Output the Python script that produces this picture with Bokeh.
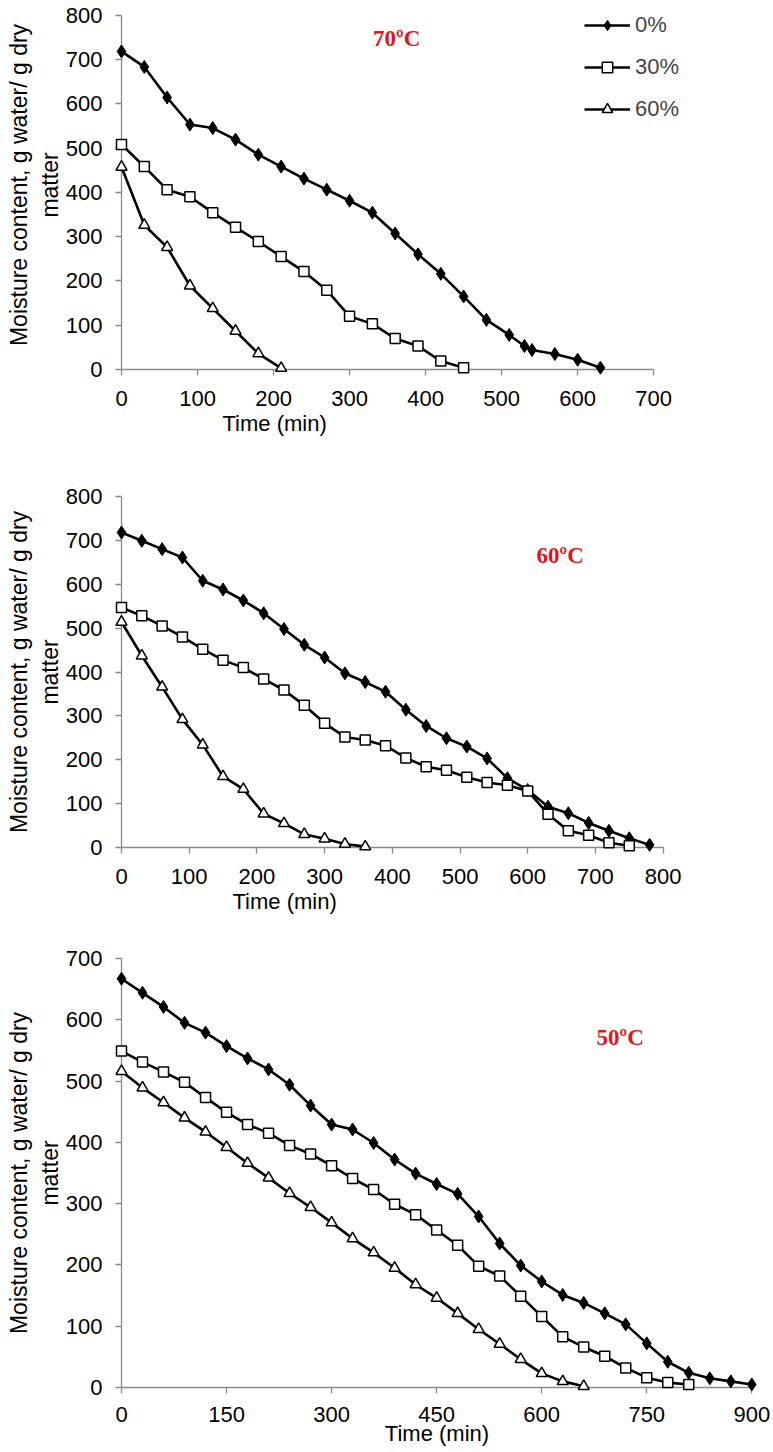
from bokeh.plotting import figure
from bokeh.models import Range1d, FixedTicker, Label, Legend, LegendItem, Title
from bokeh.layouts import column
from bokeh.embed import file_html
from bokeh.resources import INLINE

# ---------------- data ----------------
series_names = ["0%", "30%", "60%"]

# 70 C
t70_0 = [0, 30, 60, 90, 120, 150, 180, 210, 240, 270, 300, 330, 360, 390, 420, 450, 480, 510, 530, 540, 570, 600, 630]
m70_0 = [718, 683, 614, 553, 545, 519, 485, 458, 431, 406, 381, 354, 307, 260, 216, 165, 112, 78, 53, 44, 35, 22, 4]
t70_30 = [0, 30, 60, 90, 120, 150, 180, 210, 240, 270, 300, 330, 360, 390, 420, 450]
m70_30 = [508, 458, 406, 390, 354, 321, 289, 255, 221, 179, 120, 103, 70, 53, 19, 4]
t70_60 = [0, 30, 60, 90, 120, 150, 180, 210]
m70_60 = [457, 326, 276, 189, 138, 87, 36, 3]

# 60 C
t60_0 = [0, 30, 60, 90, 120, 150, 180, 210, 240, 270, 300, 330, 360, 390, 420, 450, 480, 510, 540, 570, 600, 630, 660, 690, 720, 750, 780]
m60_0 = [718, 699, 680, 661, 608, 588, 563, 534, 498, 462, 433, 397, 377, 355, 314, 277, 249, 230, 203, 158, 131, 93, 78, 56, 38, 21, 6]
t60_30 = [0, 30, 60, 90, 120, 150, 180, 210, 240, 270, 300, 330, 360, 390, 420, 450, 480, 510, 540, 570, 600, 630, 660, 690, 720, 750]
m60_30 = [547, 528, 505, 480, 452, 427, 410, 384, 359, 324, 283, 252, 245, 232, 204, 184, 176, 160, 148, 142, 129, 76, 38, 28, 11, 4]
t60_60 = [0, 30, 60, 90, 120, 150, 180, 210, 240, 270, 300, 330, 360]
m60_60 = [514, 437, 366, 292, 234, 162, 133, 77, 55, 30, 20, 8, 2]

# 50 C
t50_0 = [0, 30, 60, 90, 120, 150, 180, 210, 240, 270, 300, 330, 360, 390, 420, 450, 480, 510, 540, 570, 600, 630, 660, 690, 720, 750, 780, 810, 840, 870, 900]
m50_0 = [667, 644, 621, 595, 579, 557, 537, 519, 494, 460, 429, 421, 399, 372, 349, 332, 316, 279, 235, 199, 173, 151, 138, 121, 103, 72, 42, 24, 15, 10, 5]
t50_30 = [0, 30, 60, 90, 120, 150, 180, 210, 240, 270, 300, 330, 360, 390, 420, 450, 480, 510, 540, 570, 600, 630, 660, 690, 720, 750, 780, 810]
m50_30 = [549, 531, 515, 498, 473, 449, 429, 415, 395, 381, 362, 341, 323, 299, 282, 257, 232, 198, 182, 149, 116, 83, 66, 51, 32, 16, 8, 5]
t50_60 = [0, 30, 60, 90, 120, 150, 180, 210, 240, 270, 300, 330, 360, 390, 420, 450, 480, 510, 540, 570, 600, 630, 660]
m50_60 = [516, 489, 465, 440, 417, 392, 366, 342, 317, 294, 269, 243, 220, 195, 168, 146, 121, 95, 71, 46, 23, 10, 2]

x_ticks_70 = [0, 100, 200, 300, 400, 500, 600, 700]
x_ticks_60 = [0, 100, 200, 300, 400, 500, 600, 700, 800]
x_ticks_50 = [0, 150, 300, 450, 600, 750, 900]
y_ticks_800 = [0, 100, 200, 300, 400, 500, 600, 700, 800]
y_ticks_700 = [0, 100, 200, 300, 400, 500, 600, 700]

temp_labels = ["70ºC", "60ºC", "50ºC"]
x_title = "Time (min)"
y_title = "Moisture content, g water/ g dry\nmatter"

FONT = "Liberation Sans"
AXIS_GRAY = "#8a8a8a"
RED = "#e4141b"
W = 773
L = 121
R = 21

marker_styles = [
    dict(marker="diamond", size=13, fill_color="black", line_color="black", line_width=1),
    dict(marker="square", size=10, fill_color="white", line_color="black", line_width=1.5),
    dict(marker="triangle", size=11, fill_color="white", line_color="black", line_width=1.5),
]


def make_panel(height, T, B, xr, yr, xbounds, ybounds, xticks, yticks, series,
               temp_text, temp_xy, xtitle_offset=None, xlabel_standoff=15, legend=False):
    p = figure(width=W, height=height, output_backend="svg", toolbar_location=None,
               x_range=Range1d(*xr), y_range=Range1d(*yr),
               min_border_left=L, min_border_right=R, min_border_top=T, min_border_bottom=B)
    p.outline_line_color = None
    p.xgrid.visible = False
    p.ygrid.visible = False
    p.background_fill_color = "white"
    p.border_fill_color = "white"
    for ax, ticks, bounds in ((p.xaxis[0], xticks, xbounds), (p.yaxis[0], yticks, ybounds)):
        ax.ticker = FixedTicker(ticks=ticks)
        ax.bounds = bounds
        ax.axis_line_color = AXIS_GRAY
        ax.axis_line_width = 1.3
        ax.major_tick_line_color = AXIS_GRAY
        ax.major_tick_line_width = 1.3
        ax.major_tick_in = 0
        ax.major_tick_out = 6
        ax.minor_tick_line_color = None
        ax.major_label_text_font = FONT
        ax.major_label_text_font_size = "22px"
        ax.major_label_text_color = "black"
    p.xaxis[0].major_label_standoff = xlabel_standoff
    p.yaxis[0].major_label_standoff = 13

    ya = p.yaxis[0]
    ya.axis_label = y_title
    ya.axis_label_text_font = FONT
    ya.axis_label_text_font_size = "23px"
    ya.axis_label_text_font_style = "normal"
    ya.axis_label_text_color = "black"
    ya.axis_label_standoff = 0
    ya.axis_label_text_line_height = 1.2

    items = []
    for (tx, my), st, name in zip(series, marker_styles, series_names):
        r_line = p.line(tx, my, line_color="black", line_width=2.6, level="overlay")
        r_mark = p.scatter(tx, my, level="overlay", **st)
        items.append(LegendItem(label=name, renderers=[r_line, r_mark]))

    p.add_layout(Label(x=temp_xy[0], y=temp_xy[1], text=temp_text, text_font="Liberation Serif",
                       text_font_style="bold", text_font_size="23px", text_color=RED,
                       text_align="center", text_baseline="middle"))

    if xtitle_offset is not None:
        p.add_layout(Title(text=x_title, align="left", offset=xtitle_offset, standoff=0,
                           text_font=FONT, text_font_size="22px", text_font_style="normal",
                           text_color="black"), "below")
    else:
        xa = p.xaxis[0]
        xa.axis_label = x_title
        xa.axis_label_text_font = FONT
        xa.axis_label_text_font_size = "22px"
        xa.axis_label_text_font_style = "normal"
        xa.axis_label_text_color = "black"
        xa.axis_label_standoff = -4
    if legend:
        lg = Legend(items=items, location=(463, 247), glyph_width=46, glyph_height=26,
                    label_height=26, spacing=16, padding=0, margin=0, label_standoff=5,
                    label_text_font=FONT, label_text_font_size="22px",
                    border_line_color=None, background_fill_alpha=0)
        p.add_layout(lg)
    return p


p1 = make_panel(450, 0, 81, (0, 830), (0, 833), (0, 700), (0, 800),
                x_ticks_70, y_ticks_800,
                [(t70_0, m70_0), (t70_30, m70_30), (t70_60, m70_60)],
                temp_labels[0], (362, 747), xtitle_offset=101, legend=True)
p2 = make_panel(480, 46, 83, (0, 932), (0, 800), (0, 800), (0, 800),
                x_ticks_60, y_ticks_800,
                [(t60_0, m60_0), (t60_30, m60_30), (t60_60, m60_60)],
                temp_labels[1], (648, 665), xtitle_offset=111)
p3 = make_panel(522, 28, 65, (0, 901), (0, 700), (0, 900), (0, 700),
                x_ticks_50, y_ticks_700,
                [(t50_0, m50_0), (t50_30, m50_30), (t50_60, m50_60)],
                temp_labels[2], (712, 571), xlabel_standoff=13)

layout = column(p1, p2, p3, spacing=0)
open("out.html", "w").write(file_html(layout, INLINE))
